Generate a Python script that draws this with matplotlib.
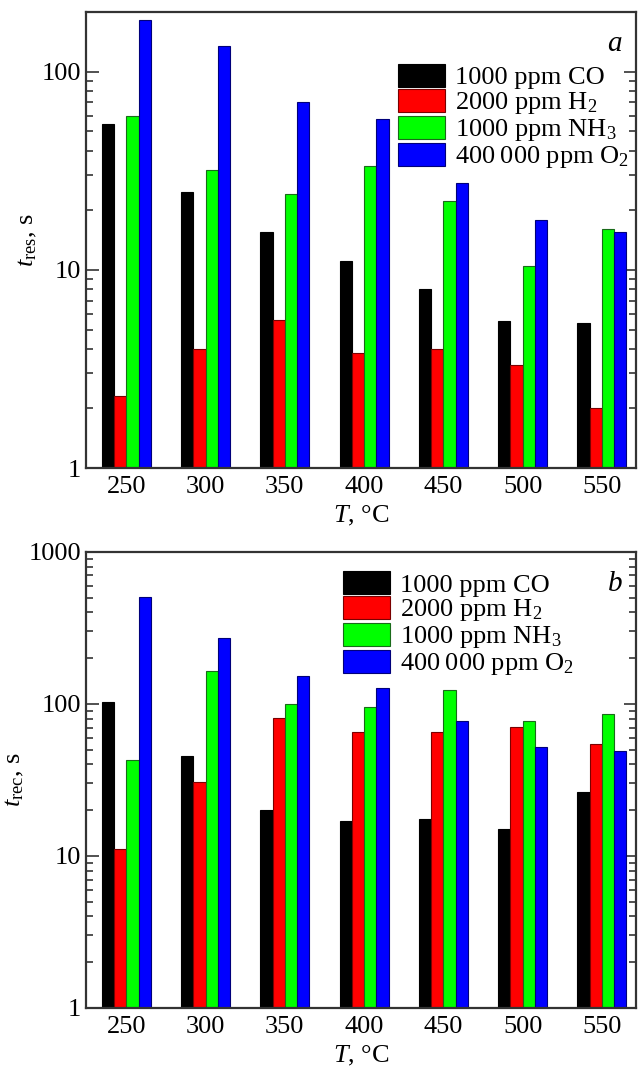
import numpy as np
import matplotlib
matplotlib.use("Agg")
from matplotlib import pyplot as plt
from matplotlib.ticker import FixedLocator, NullFormatter, LogLocator

plt.rcParams['font.family'] = ['Liberation Serif', 'DejaVu Serif']
plt.rcParams['mathtext.fontset'] = 'custom'
plt.rcParams['mathtext.rm'] = 'Liberation Serif'
plt.rcParams['mathtext.it'] = 'Liberation Serif:italic'

temps = ["250", "300", "350", "400", "450", "500", "550"]
gases = ["1000 ppm CO", "2000 ppm H$_2$", "1000 ppm NH$_3$", "400\u2009000 ppm O$_2$"]
colors = ["#000000", "#ff0000", "#00ff00", "#0000ff"]
edges = ["#000000", "#7a0000", "#1a6a1a", "#00007a"]

# response time, s
res_co = [54.5, 24.6, 15.6, 11.1, 8.0, 5.5, 5.4]
res_h2 = [2.3, 4.0, 5.6, 3.8, 4.0, 3.3, 2.0]
res_nh3 = [60, 32, 24.2, 33.6, 22.2, 10.5, 16.1]
res_o2 = [183, 135, 70, 57.5, 27.4, 17.8, 15.5]

# recovery time, s
rec_co = [103, 45.5, 20.1, 17.1, 17.4, 15.1, 26.5]
rec_h2 = [11.1, 30.5, 81, 65.5, 65.5, 70.6, 54.3]
rec_nh3 = [42.8, 164, 100, 95.5, 124, 77, 86]
rec_o2 = [504, 270, 153, 127, 77.3, 52.4, 48.9]

FS = 19


def bar_panel(ax, series, ymax, yticks, label, tag, leg_xy):
    x = np.arange(len(temps))
    w = 0.155
    for i, vals in enumerate(series):
        ax.bar(x + (i - 1.5) * w, vals, width=w, color=colors[i],
               edgecolor=edges[i], linewidth=0.8, label=gases[i], zorder=2)
    ax.set_yscale('log')
    ax.set_ylim(1, ymax)
    ax.set_xlim(-0.51, 6.43)
    ax.set_xticks(x)
    ax.set_xticklabels(temps, fontsize=FS)
    ax.yaxis.set_major_locator(FixedLocator(yticks))
    ax.set_yticklabels([str(t) for t in yticks], fontsize=FS)
    ax.yaxis.set_minor_locator(LogLocator(base=10, subs=np.arange(2, 10)))
    ax.yaxis.set_minor_formatter(NullFormatter())
    ax.tick_params(axis='y', which='both', direction='in', right=True, width=1.2, color='#333333')
    ax.tick_params(axis='y', which='major', length=9)
    ax.tick_params(axis='y', which='minor', length=5)
    ax.tick_params(axis='x', length=0, pad=6)
    for s in ax.spines.values():
        s.set_linewidth(1.6)
        s.set_color('#333333')
    ax.set_ylabel(label, fontsize=FS, labelpad=2)
    ax.set_xlabel("$T$, °C", fontsize=FS, labelpad=4)
    ax.text(0.975, 0.93, tag, transform=ax.transAxes, fontsize=FS + 2,
            style='italic', ha='right', va='center')
    ax.legend(loc='upper left', bbox_to_anchor=leg_xy, frameon=False,
              fontsize=FS, borderpad=0, borderaxespad=0, handlelength=1.8,
              handleheight=0.95, handletextpad=0.35, labelspacing=-0.02)


fig = plt.figure(figsize=(6.43, 10.73), dpi=100)
ax1 = fig.add_axes([0.1337, 0.5638, 0.8553, 0.425])
ax2 = fig.add_axes([0.1337, 0.0606, 0.8553, 0.425])

bar_panel(ax1, [res_co, res_h2, res_nh3, res_o2], 200, [1, 10, 100],
          "$t_{\\rm res}$, s", "a", (0.567, 0.886))
bar_panel(ax2, [rec_co, rec_h2, rec_nh3, rec_o2], 1000, [1, 10, 100, 1000],
          "$t_{\\rm rec}$, s", "b", (0.467, 0.958))

fig.savefig("out.png", dpi=100)
